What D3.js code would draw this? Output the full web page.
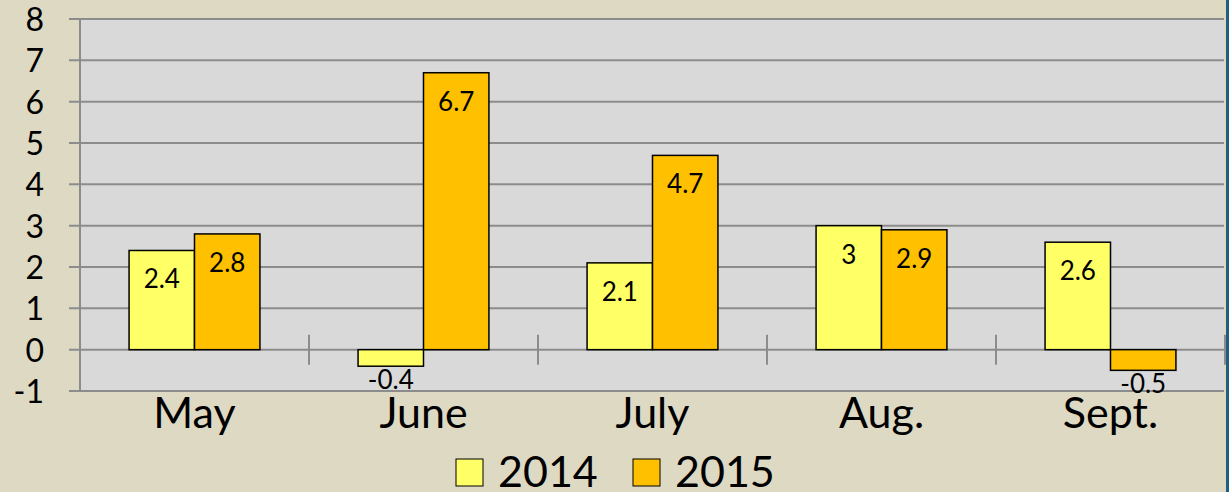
<!DOCTYPE html>
<html>
<head>
<meta charset="utf-8">
<script src="https://cdn.jsdelivr.net/npm/d3@7"></script>
<style>
body { margin: 0; background: #ddd9c3; }
svg { display: block; font-family: Lato, "Open Sans", sans-serif; }
</style>
</head>
<body>
<div id="chart"></div>
<script>
var months = ["May", "June", "July", "Aug.", "Sept."];
var series = ["2014", "2015"];
var values2014 = [2.4, -0.4, 2.1, 3, 2.6];
var values2015 = [2.8, 6.7, 4.7, 2.9, -0.5];
var yTicks = [-1, 0, 1, 2, 3, 4, 5, 6, 7, 8];
var colors = ["#ffff66", "#ffc000"];

var width = 1229, height = 492;
var plot = {left: 80, right: 1225, top: 19, bottom: 391};

var svg = d3.select("#chart").append("svg")
    .attr("width", width)
    .attr("height", height);

svg.append("rect")
    .attr("width", width)
    .attr("height", height)
    .attr("fill", "#ddd9c3");

var x = d3.scaleBand().domain(months).range([plot.left, plot.right]);
var xs = d3.scaleBand().domain(series).range([0, x.bandwidth()]).paddingOuter(0.75);
var y = d3.scaleLinear().domain([-1, 8]).range([plot.bottom, plot.top]);

// plot area
svg.append("rect")
    .attr("x", plot.left)
    .attr("y", plot.top)
    .attr("width", plot.right - plot.left - 1)
    .attr("height", plot.bottom - plot.top)
    .attr("fill", "#d9d9d9");

// right border
svg.append("rect")
    .attr("x", 1226)
    .attr("y", 0)
    .attr("width", 3)
    .attr("height", height)
    .attr("fill", "#215f80");

// gridlines + y ticks
svg.append("g").selectAll("line")
    .data(yTicks)
    .join("line")
    .attr("x1", 69)
    .attr("x2", plot.right - 1)
    .attr("y1", function(d) { return y(d); })
    .attr("y2", function(d) { return y(d); })
    .attr("stroke", "#8c8c8c")
    .attr("stroke-width", 2);

svg.append("g").selectAll("text")
    .data(yTicks)
    .join("text")
    .attr("x", 44)
    .attr("y", function(d) { return y(d) + 12; })
    .attr("text-anchor", "end")
    .style("font-size", "32px")
    .attr("fill", "#000")
    .text(function(d) { return d; });

// y axis line
svg.append("line")
    .attr("x1", plot.left)
    .attr("x2", plot.left)
    .attr("y1", plot.top)
    .attr("y2", plot.bottom + 1)
    .attr("stroke", "#8c8c8c")
    .attr("stroke-width", 2);

// category ticks on zero line
svg.append("g").selectAll("line")
    .data(months.slice(1).concat(["end"]))
    .join("line")
    .attr("x1", function(d, i) { return x(months[i]) + x.bandwidth(); })
    .attr("x2", function(d, i) { return x(months[i]) + x.bandwidth(); })
    .attr("y1", y(0) - 15)
    .attr("y2", y(0) + 15)
    .attr("stroke", "#8c8c8c")
    .attr("stroke-width", 2);

// bars
var rows = months.map(function(m, i) {
    return [{month: m, key: "2014", value: values2014[i]},
            {month: m, key: "2015", value: values2015[i]}];
});
var flat = [].concat.apply([], rows);

svg.append("g").selectAll("rect")
    .data(flat)
    .join("rect")
    .attr("x", function(d) { return x(d.month) + xs(d.key); })
    .attr("width", xs.bandwidth())
    .attr("y", function(d) { return y(Math.max(0, d.value)); })
    .attr("height", function(d) { return Math.abs(y(d.value) - y(0)); })
    .attr("fill", function(d) { return colors[series.indexOf(d.key)]; })
    .attr("stroke", "#000")
    .attr("stroke-width", 1.5);

// bar labels
svg.append("g").selectAll("text")
    .data(flat)
    .join("text")
    .attr("x", function(d) { return x(d.month) + xs(d.key) + xs.bandwidth() / 2; })
    .attr("y", function(d) {
        if (d.value >= 0) return y(d.value) + 38;
        return y(d.value) + 23;
    })
    .attr("text-anchor", "middle")
    .style("font-size", "26px")
    .attr("fill", "#000")
    .text(function(d) { return d.value; });

// category labels
svg.append("g").selectAll("text")
    .data(months)
    .join("text")
    .attr("x", function(d) { return x(d) + x.bandwidth() / 2; })
    .attr("y", 428)
    .attr("text-anchor", "middle")
    .style("font-size", "43px")
    .attr("fill", "#000")
    .text(function(d) { return d; });

// legend
var legendX = [456, 633];
var legend = svg.append("g").selectAll("g")
    .data(series)
    .join("g")
    .attr("transform", function(d, i) { return "translate(" + legendX[i] + ",459)"; });

legend.append("rect")
    .attr("width", 27)
    .attr("height", 27)
    .attr("fill", function(d, i) { return colors[i]; })
    .attr("stroke", "#000")
    .attr("stroke-width", 1);

legend.append("text")
    .attr("x", 42)
    .attr("y", 28)
    .style("font-size", "43px")
    .attr("fill", "#000")
    .text(function(d) { return d; });
</script>
</body>
</html>
